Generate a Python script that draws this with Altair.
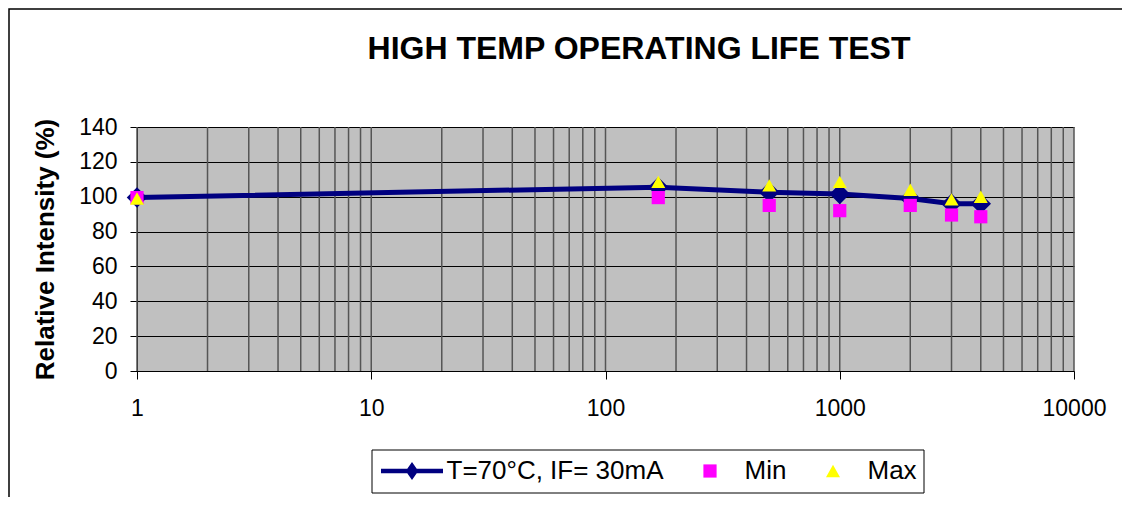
import altair as alt
import pandas as pd

FONT = "Liberation Sans"

chart_title = "HIGH TEMP OPERATING LIFE TEST"
hours = [1, 168, 500, 1000, 2000, 3000, 4000]
typical = [99.5, 105.5, 102.5, 101.5, 99.0, 96.0, 96.0]
min_vals = [99.5, 99.5, 95.0, 92.0, 95.0, 89.5, 88.5]
max_vals = [99.0, 108.5, 106.5, 108.5, 104.0, 98.5, 100.0]

series_names = ["T=70°C, IF= 30mA", "Min", "Max"]
series_colors = ["#000080", "#FF00FF", "#FFFF00"]

x_ticks = [1, 10, 100, 1000, 10000]
y_ticks = [0, 20, 40, 60, 80, 100, 120, 140]
x_grid = [1, 2, 3, 4, 5, 6, 7, 8, 9,
          10, 20, 30, 40, 50, 60, 70, 80, 90,
          100, 200, 300, 400, 500, 600, 700, 800, 900,
          1000, 2000, 3000, 4000, 5000, 6000, 7000, 8000, 9000, 10000]

# legend / marker symbol shapes (custom paths, unit = sqrt(size)/2 px)
shape_main = ("M-3.1,-0.22L3.1,-0.22L3.1,0.22L-3.1,0.22Z "
              "M0,-0.9L0.63,0L0,0.9L-0.63,0Z")
shape_min = "M-0.66,-0.66L0.66,-0.66L0.66,0.66L-0.66,0.66Z"
shape_max = "M0,-0.62L0.7,0.62L-0.7,0.62Z"

main_df = pd.DataFrame({"hours": hours, "value": typical})
mm_df = pd.DataFrame({
    "hours": hours + hours,
    "value": min_vals + max_vals,
    "series": ["Min"] * len(hours) + ["Max"] * len(hours),
})
grid_df = pd.DataFrame({"hours": x_grid})
one_df = pd.DataFrame({"k": [0]})

x_scale = alt.Scale(type="log", domain=[1, 10000])
y_scale = alt.Scale(domain=[0, 140], nice=False)

x_axis = alt.Axis(values=x_ticks, format="d", grid=False, tickSize=8,
                  tickColor="black", domainColor="black", labelFontSize=23,
                  labelFont=FONT, labelColor="black", labelPadding=18,
                  labelFlush=False)
y_axis = alt.Axis(values=y_ticks, grid=True, gridColor="black", gridWidth=1,
                  gridOpacity=1, tickSize=7, tickColor="black",
                  domainColor="black", labelFontSize=23, labelFont=FONT,
                  labelColor="black", labelPadding=13,
                  title="Relative Intensity (%)", titleFont=FONT,
                  titleFontSize=26, titleFontWeight="bold", titleColor="black",
                  titlePadding=20)

X = alt.X("hours:Q", scale=x_scale, axis=x_axis, title=None)
Y = alt.Y("value:Q", scale=y_scale, axis=y_axis)

frame = alt.Chart(one_df).mark_rect(
    fill="transparent", stroke="black", strokeWidth=1.5
).encode(
    x=alt.value(-128), x2=alt.value(3000),
    y=alt.value(-118), y2=alt.value(3000)
)

legend_box = alt.Chart(one_df).mark_rect(
    fill="white", stroke="black", strokeWidth=1
).encode(
    x=alt.value(235), x2=alt.value(787),
    y=alt.value(323), y2=alt.value(366)
)

title_text = alt.Chart(one_df).mark_text(
    text=chart_title, font=FONT, fontSize=32, fontWeight="bold",
    color="black", align="center", baseline="alphabetic"
).encode(x=alt.value(502), y=alt.value(-68))

grid = alt.Chart(grid_df).mark_rule(color="#555555", strokeWidth=1.5).encode(x=X)

line = alt.Chart(main_df).mark_line(color="#000080", strokeWidth=5).encode(x=X, y=Y)
diamonds = alt.Chart(main_df).mark_point(
    shape="diamond", filled=True, size=420, opacity=1, color="#000080"
).encode(x=X, y=Y)

legend = alt.Legend(
    orient="none", legendX=262, legendY=331, direction="horizontal",
    columns=3, labelFont=FONT, labelFontSize=26, labelColor="black",
    symbolSize=400, symbolStrokeWidth=0, symbolOpacity=1, labelOffset=21.5,
    columnPadding=33, padding=0, labelLimit=400, title=None,
)

mm = alt.Chart(mm_df).mark_point(filled=True, size=400, opacity=1).encode(
    x=X, y=Y,
    color=alt.Color("series:N", scale=alt.Scale(domain=series_names, range=series_colors),
                    legend=legend, title=None),
    shape=alt.Shape("series:N", scale=alt.Scale(domain=series_names,
                                                range=[shape_main, shape_min, shape_max]),
                    legend=legend, title=None),
    order=alt.Order("series:N", sort="descending"),
)

chart = alt.layer(frame, title_text, legend_box, grid, line, diamonds, mm).properties(
    width=937, height=244,
    autosize=alt.AutoSizeParams(type="none"),
    padding={"left": 129, "top": 119, "right": 48, "bottom": 126},
).configure_view(fill="#C0C0C0", strokeWidth=0)

chart.save("out.html", embed_options={"renderer": "svg", "actions": False})
